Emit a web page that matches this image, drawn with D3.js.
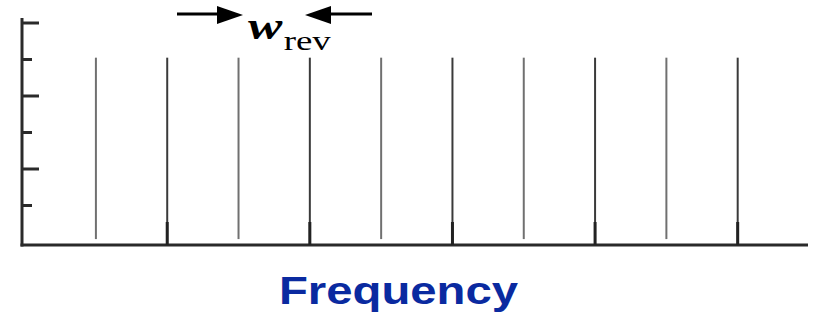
<!DOCTYPE html>
<html>
<head>
<meta charset="utf-8">
<script src="https://cdn.jsdelivr.net/npm/d3@7"></script>
<style>
  html, body { margin: 0; padding: 0; background: #fff; }
  svg { display: block; }
</style>
</head>
<body>
<svg id="chart" width="819" height="321"></svg>
<script>
// ---- data ----
const modeIndex   = [1, 2, 3, 4, 5, 6, 7, 8, 9, 10];
const modeHeight  = [5.05, 5.05, 5.05, 5.05, 5.05, 5.05, 5.05, 5.05, 5.05, 5.05];
const modeBase    = [0.08, 0, 0.08, 0, 0.08, 0, 0.08, 0, 0.08, 0];
const yTickValues = [1, 2, 3, 4, 5, 6];
const xLabel = "Frequency";
const spacingSymbol = "w";
const spacingSub = "rev";

// ---- layout ----
const svg = d3.select("#chart");
const x = d3.scaleLinear().domain([0, 11]).range([24.6, 809]);
const y = d3.scaleLinear().domain([0, 6]).range([242, 23]);
const axisX = 22, axisY = 245;

// y axis line
svg.append("line")
  .attr("x1", axisX).attr("x2", axisX)
  .attr("y1", 18).attr("y2", axisY + 1.5)
  .attr("stroke", "#2a2a2a").attr("stroke-width", 3);

// y ticks
svg.selectAll("line.ytick").data(yTickValues).enter().append("line")
  .attr("class", "ytick")
  .attr("x1", axisX)
  .attr("x2", d => d % 2 === 0 ? 39 : 32)
  .attr("y1", d => y(d)).attr("y2", d => y(d))
  .attr("stroke", "#2a2a2a").attr("stroke-width", 3);

// x axis line
svg.append("line")
  .attr("x1", axisX - 1.5).attr("x2", 808)
  .attr("y1", axisY).attr("y2", axisY)
  .attr("stroke", "#2a2a2a").attr("stroke-width", 3);

// spectral lines
const modes = modeIndex.map((m, i) => ({ m, h: modeHeight[i], b: modeBase[i] }));
svg.selectAll("line.mode").data(modes).enter().append("line")
  .attr("class", "mode")
  .attr("x1", d => x(d.m)).attr("x2", d => x(d.m))
  .attr("y1", d => y(d.h))
  .attr("y2", d => d.b === 0 ? axisY : y(d.b))
  .attr("stroke", d => d.b === 0 ? "#3a3a3a" : "#707070")
  .attr("stroke-width", 2);

// thicker foot on the lines touching the axis
svg.selectAll("line.foot").data(modes.filter(d => d.b === 0)).enter().append("line")
  .attr("class", "foot")
  .attr("x1", d => x(d.m)).attr("x2", d => x(d.m))
  .attr("y1", 222).attr("y2", axisY)
  .attr("stroke", "#222").attr("stroke-width", 3);

// arrows
function arrow(x0, x1, yy) {
  const dir = Math.sign(x1 - x0);
  const headLen = 26, headHalf = 9;
  svg.append("line")
    .attr("x1", x0).attr("x2", x1 - dir * headLen + dir * 2)
    .attr("y1", yy).attr("y2", yy)
    .attr("stroke", "#000").attr("stroke-width", 3);
  svg.append("path")
    .attr("d", `M${x1},${yy + 1} L${x1 - dir * headLen},${yy - headHalf + 1} L${x1 - dir * headLen},${yy + headHalf + 1} Z`)
    .attr("fill", "#000");
}
arrow(177, 243, 14);
arrow(372, 305, 14);

// w_rev label (horizontally stretched like the source image)
const labG = svg.append("g")
  .attr("transform", "translate(248,0) scale(1.32,1) translate(-248,0)");
const lab = labG.append("text")
  .attr("x", 248).attr("y", 39)
  .attr("font-family", "'Liberation Serif', 'Times New Roman', serif")
  .attr("fill", "#000");
lab.append("tspan")
  .attr("font-size", 39).attr("font-weight", "bold").attr("font-style", "italic")
  .text(spacingSymbol);
lab.append("tspan")
  .attr("font-size", 28).attr("dy", 11).attr("dx", 1)
  .text(spacingSub);

// x label
svg.append("text")
  .attr("x", 279).attr("y", 304)
  .attr("textLength", 239)
  .attr("lengthAdjust", "spacingAndGlyphs")
  .attr("font-family", "'Liberation Sans', Arial, sans-serif")
  .attr("font-weight", "bold")
  .attr("font-size", 38)
  .attr("fill", "#0a2aa0")
  .text(xLabel);
</script>
</body>
</html>
